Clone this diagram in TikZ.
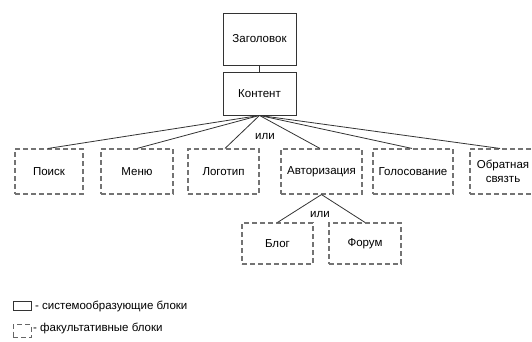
\documentclass[tikz,border=0pt]{standalone}
\usepackage{fontspec}
\setmainfont{Liberation Sans}
\begin{document}
\begin{tikzpicture}[x=1pt,y=-1pt,
  solidbox/.style={draw=black!80, line width=0.9pt, rectangle, inner sep=0pt, font=\fontsize{11.5}{13}\selectfont, align=center},
  optbox/.style={draw=black!55, line width=1.1pt, dash pattern=on 5pt off 3pt, rectangle, inner sep=0pt, font=\fontsize{11.5}{13}\selectfont, align=center},
  link/.style={draw=black!80, line width=0.8pt},
  lbl/.style={font=\fontsize{11.5}{13}\selectfont, inner sep=0pt},
  legtext/.style={font=\fontsize{11.5}{13}\selectfont, anchor=west, inner sep=0pt}]
\useasboundingbox (0,0) rectangle (532,342);
\clip (0,0) rectangle (532,342);
\node[solidbox, minimum width=73pt, minimum height=52pt] (zag) at (259.5,39) {Заголовок};
\node[solidbox, minimum width=73pt, minimum height=43pt] (kont) at (259.5,93.5) {Контент};
\node[optbox, minimum width=68pt, minimum height=45pt] (poisk) at (49,171.5) {Поиск};
\node[optbox, minimum width=72pt, minimum height=45pt] (menu) at (137,171.5) {Меню};
\node[optbox, minimum width=71pt, minimum height=45pt] (logo) at (223.5,171.5) {Логотип};
\node[optbox, minimum width=81pt, minimum height=45pt] (avt) at (321.5,171.5) {Авторизация};
\node[optbox, minimum width=80pt, minimum height=45pt] (golos) at (413,171.5) {Голосование};
\node[optbox, minimum width=72pt, minimum height=45pt] (obr) at (506,171.5) {};
\node[lbl, align=center] (obrt) at (503,171.5) {Обратная\\[1pt]связть};
\node[optbox, minimum width=71pt, minimum height=41pt] (blog) at (277.5,243.5) {Блог};
\node[optbox, minimum width=72pt, minimum height=41pt] (forum) at (365,243.5) {Форум};
\draw[link] (zag) -- (kont);
\foreach \t/\xx in {poisk/48,menu/137,logo/225,avt/320,golos/412,obr/500}
  \draw[link] (kont.south) -- (\t.north -| \xx,0);
\draw[link] (avt.south) -- (blog.north);
\draw[link] (avt.south) -- (forum.north);
\node[lbl] (or1) at (265,137) {или};
\node[lbl] (or2) at (320,215) {или};
\node[draw=black!80, line width=0.9pt, minimum width=18pt, minimum height=9pt, inner sep=0pt] (leg1) at (22,306) {};
\node[legtext] (leg1t) at (35,306) {- системообразующие блоки};
\node[draw=black!60, line width=0.9pt, dash pattern=on 5pt off 3pt, minimum width=18pt, minimum height=13pt, inner sep=0pt] (leg2) at (22,331) {};
\node[legtext] (leg2t) at (33,328) {- факультативные блоки};
\end{tikzpicture}
\end{document}
